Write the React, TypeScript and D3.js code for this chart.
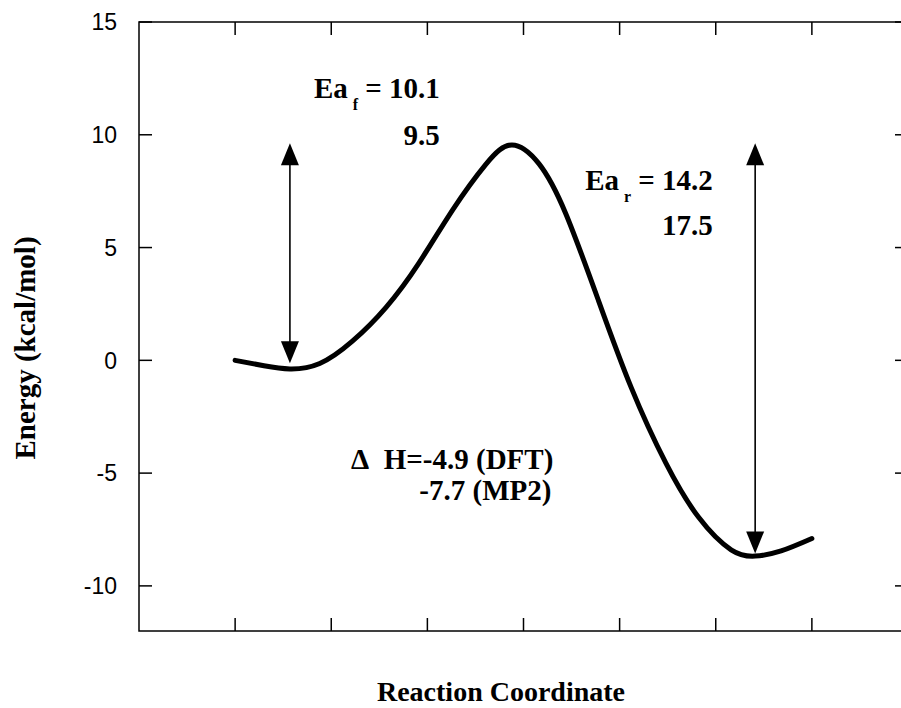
import React, { useEffect, useRef } from "react";
import * as d3 from "d3";

// reaction path (reaction coordinate, energy in kcal/mol)
const coord = [1.0, 1.3, 1.57, 1.88, 2.22, 2.57, 2.91, 3.26, 3.61, 3.88, 4.16, 4.44, 4.78, 5.12, 5.48, 5.82, 6.16, 6.41, 6.68, 7.0];
const energy = [0, -0.24, -0.38, -0.14, 0.85, 2.35, 4.3, 6.65, 8.7, 9.55, 8.72, 6.5, 2.65, -1.2, -4.55, -6.95, -8.4, -8.68, -8.45, -7.9];

const yTicks = [-10, -5, 0, 5, 10, 15];
const xTicks = [1, 2, 3, 4, 5, 6, 7];

// double-headed arrows: x, top, bottom
const arrows = [
  { x: 1.57, top: 9.62, bottom: -0.13 },
  { x: 6.41, top: 9.62, bottom: -8.56 },
];

// text annotations, right-aligned at (x, y) in data units
const labels = [
  { x: 3.13, y: 11.63, main: "Ea", sub: "f", rest: " = 10.1" },
  { x: 3.13, y: 9.55, main: "9.5", sub: "", rest: "" },
  { x: 5.97, y: 7.55, main: "Ea", sub: "r", rest: " = 14.2" },
  { x: 5.97, y: 5.56, main: "17.5", sub: "", rest: "" },
  { x: 4.31, y: -4.81, main: "\u0394\u00a0\u00a0H=-4.9 (DFT)", sub: "", rest: "" },
  { x: 4.29, y: -6.19, main: "-7.7 (MP2)", sub: "", rest: "" },
];

const width = 901;
const height = 708;
const marginLeft = 139;
const marginTop = 22;
const plotRight = 908;
const plotBottom = 631;
const serif = "'Liberation Serif', 'DejaVu Serif', 'Times New Roman', serif";
const sans = "'Liberation Sans', Arial, Helvetica, sans-serif";

const App = () => {
  const svgRef = useRef<SVGSVGElement>(null);

  useEffect(() => {
    const svg = d3.select(svgRef.current);
    svg.selectAll("*").remove();

    const x = d3.scaleLinear().domain([0, 8]).range([marginLeft, plotRight]);
    const y = d3.scaleLinear().domain([-12, 15]).range([plotBottom, marginTop]);

    // frame
    svg
      .append("rect")
      .attr("x", x(0))
      .attr("y", y(15))
      .attr("width", x(8) - x(0))
      .attr("height", y(-12) - y(15))
      .attr("fill", "none")
      .attr("stroke", "#000")
      .attr("stroke-width", 1.5);

    // left / right ticks (inward)
    const tickLen = 13;
    svg
      .append("g")
      .selectAll("line")
      .data(yTicks)
      .enter()
      .append("line")
      .attr("x1", x(0))
      .attr("x2", x(0) + tickLen)
      .attr("y1", (d) => y(d))
      .attr("y2", (d) => y(d))
      .attr("stroke", "#000")
      .attr("stroke-width", 1.5);
    svg
      .append("g")
      .selectAll("line")
      .data(yTicks)
      .enter()
      .append("line")
      .attr("x1", x(8))
      .attr("x2", x(8) - tickLen)
      .attr("y1", (d) => y(d))
      .attr("y2", (d) => y(d))
      .attr("stroke", "#000")
      .attr("stroke-width", 1.5);

    // top / bottom ticks (inward)
    svg
      .append("g")
      .selectAll("line")
      .data(xTicks)
      .enter()
      .append("line")
      .attr("x1", (d) => x(d))
      .attr("x2", (d) => x(d))
      .attr("y1", y(-12))
      .attr("y2", y(-12) - tickLen)
      .attr("stroke", "#000")
      .attr("stroke-width", 1.5);
    svg
      .append("g")
      .selectAll("line")
      .data(xTicks)
      .enter()
      .append("line")
      .attr("x1", (d) => x(d))
      .attr("x2", (d) => x(d))
      .attr("y1", y(15))
      .attr("y2", y(15) + tickLen)
      .attr("stroke", "#000")
      .attr("stroke-width", 1.5);

    // y tick labels
    svg
      .append("g")
      .selectAll("text")
      .data(yTicks)
      .enter()
      .append("text")
      .attr("x", x(0) - 22)
      .attr("y", (d) => y(d))
      .attr("dy", "0.36em")
      .attr("text-anchor", "end")
      .style("font-family", sans)
      .style("font-size", "23px")
      .text((d) => String(d));

    // axis titles
    svg
      .append("text")
      .attr("transform", `translate(35,348) rotate(-90)`)
      .attr("text-anchor", "middle")
      .style("font-family", serif)
      .style("font-weight", "bold")
      .style("font-size", "29px")
      .text("Energy (kcal/mol)");

    svg
      .append("text")
      .attr("x", 501)
      .attr("y", 701)
      .attr("text-anchor", "middle")
      .style("font-family", serif)
      .style("font-weight", "bold")
      .style("font-size", "28px")
      .text("Reaction Coordinate");

    // energy profile
    const line = d3
      .line<number>()
      .x((d, i) => x(coord[i]))
      .y((d) => y(d))
      .curve(d3.curveNatural);

    svg
      .append("path")
      .datum(energy)
      .attr("fill", "none")
      .attr("stroke", "#000")
      .attr("stroke-width", 5)
      .attr("stroke-linecap", "round")
      .attr("stroke-linejoin", "round")
      .attr("d", line);

    // arrows
    const headW = 9;
    const headL = 22;
    arrows.forEach((a) => {
      const ax = x(a.x);
      const yt = y(a.top);
      const yb = y(a.bottom);
      svg
        .append("line")
        .attr("x1", ax)
        .attr("x2", ax)
        .attr("y1", yt + headL - 2)
        .attr("y2", yb - headL + 2)
        .attr("stroke", "#000")
        .attr("stroke-width", 1.6);
      svg
        .append("path")
        .attr("d", `M${ax},${yt}L${ax - headW},${yt + headL}L${ax + headW},${yt + headL}Z`)
        .attr("fill", "#000");
      svg
        .append("path")
        .attr("d", `M${ax},${yb}L${ax - headW},${yb - headL}L${ax + headW},${yb - headL}Z`)
        .attr("fill", "#000");
    });

    // annotations
    labels.forEach((l) => {
      const t = svg
        .append("text")
        .attr("x", x(l.x))
        .attr("y", y(l.y))
        .attr("text-anchor", "end")
        .style("font-family", serif)
        .style("font-weight", "bold")
        .style("font-size", "29px");
      t.append("tspan").text(l.main);
      if (l.sub) {
        t.append("tspan").attr("dx", 5).attr("dy", 12).style("font-size", "16px").text(l.sub);
        t.append("tspan").attr("dy", -12).text(l.rest);
      }
    });
  }, []);

  return (
    <svg
      ref={svgRef}
      width={width}
      height={height}
      style={{ position: "absolute", left: 0, top: 0, background: "#fff" }}
    ></svg>
  );
};

export default App;
